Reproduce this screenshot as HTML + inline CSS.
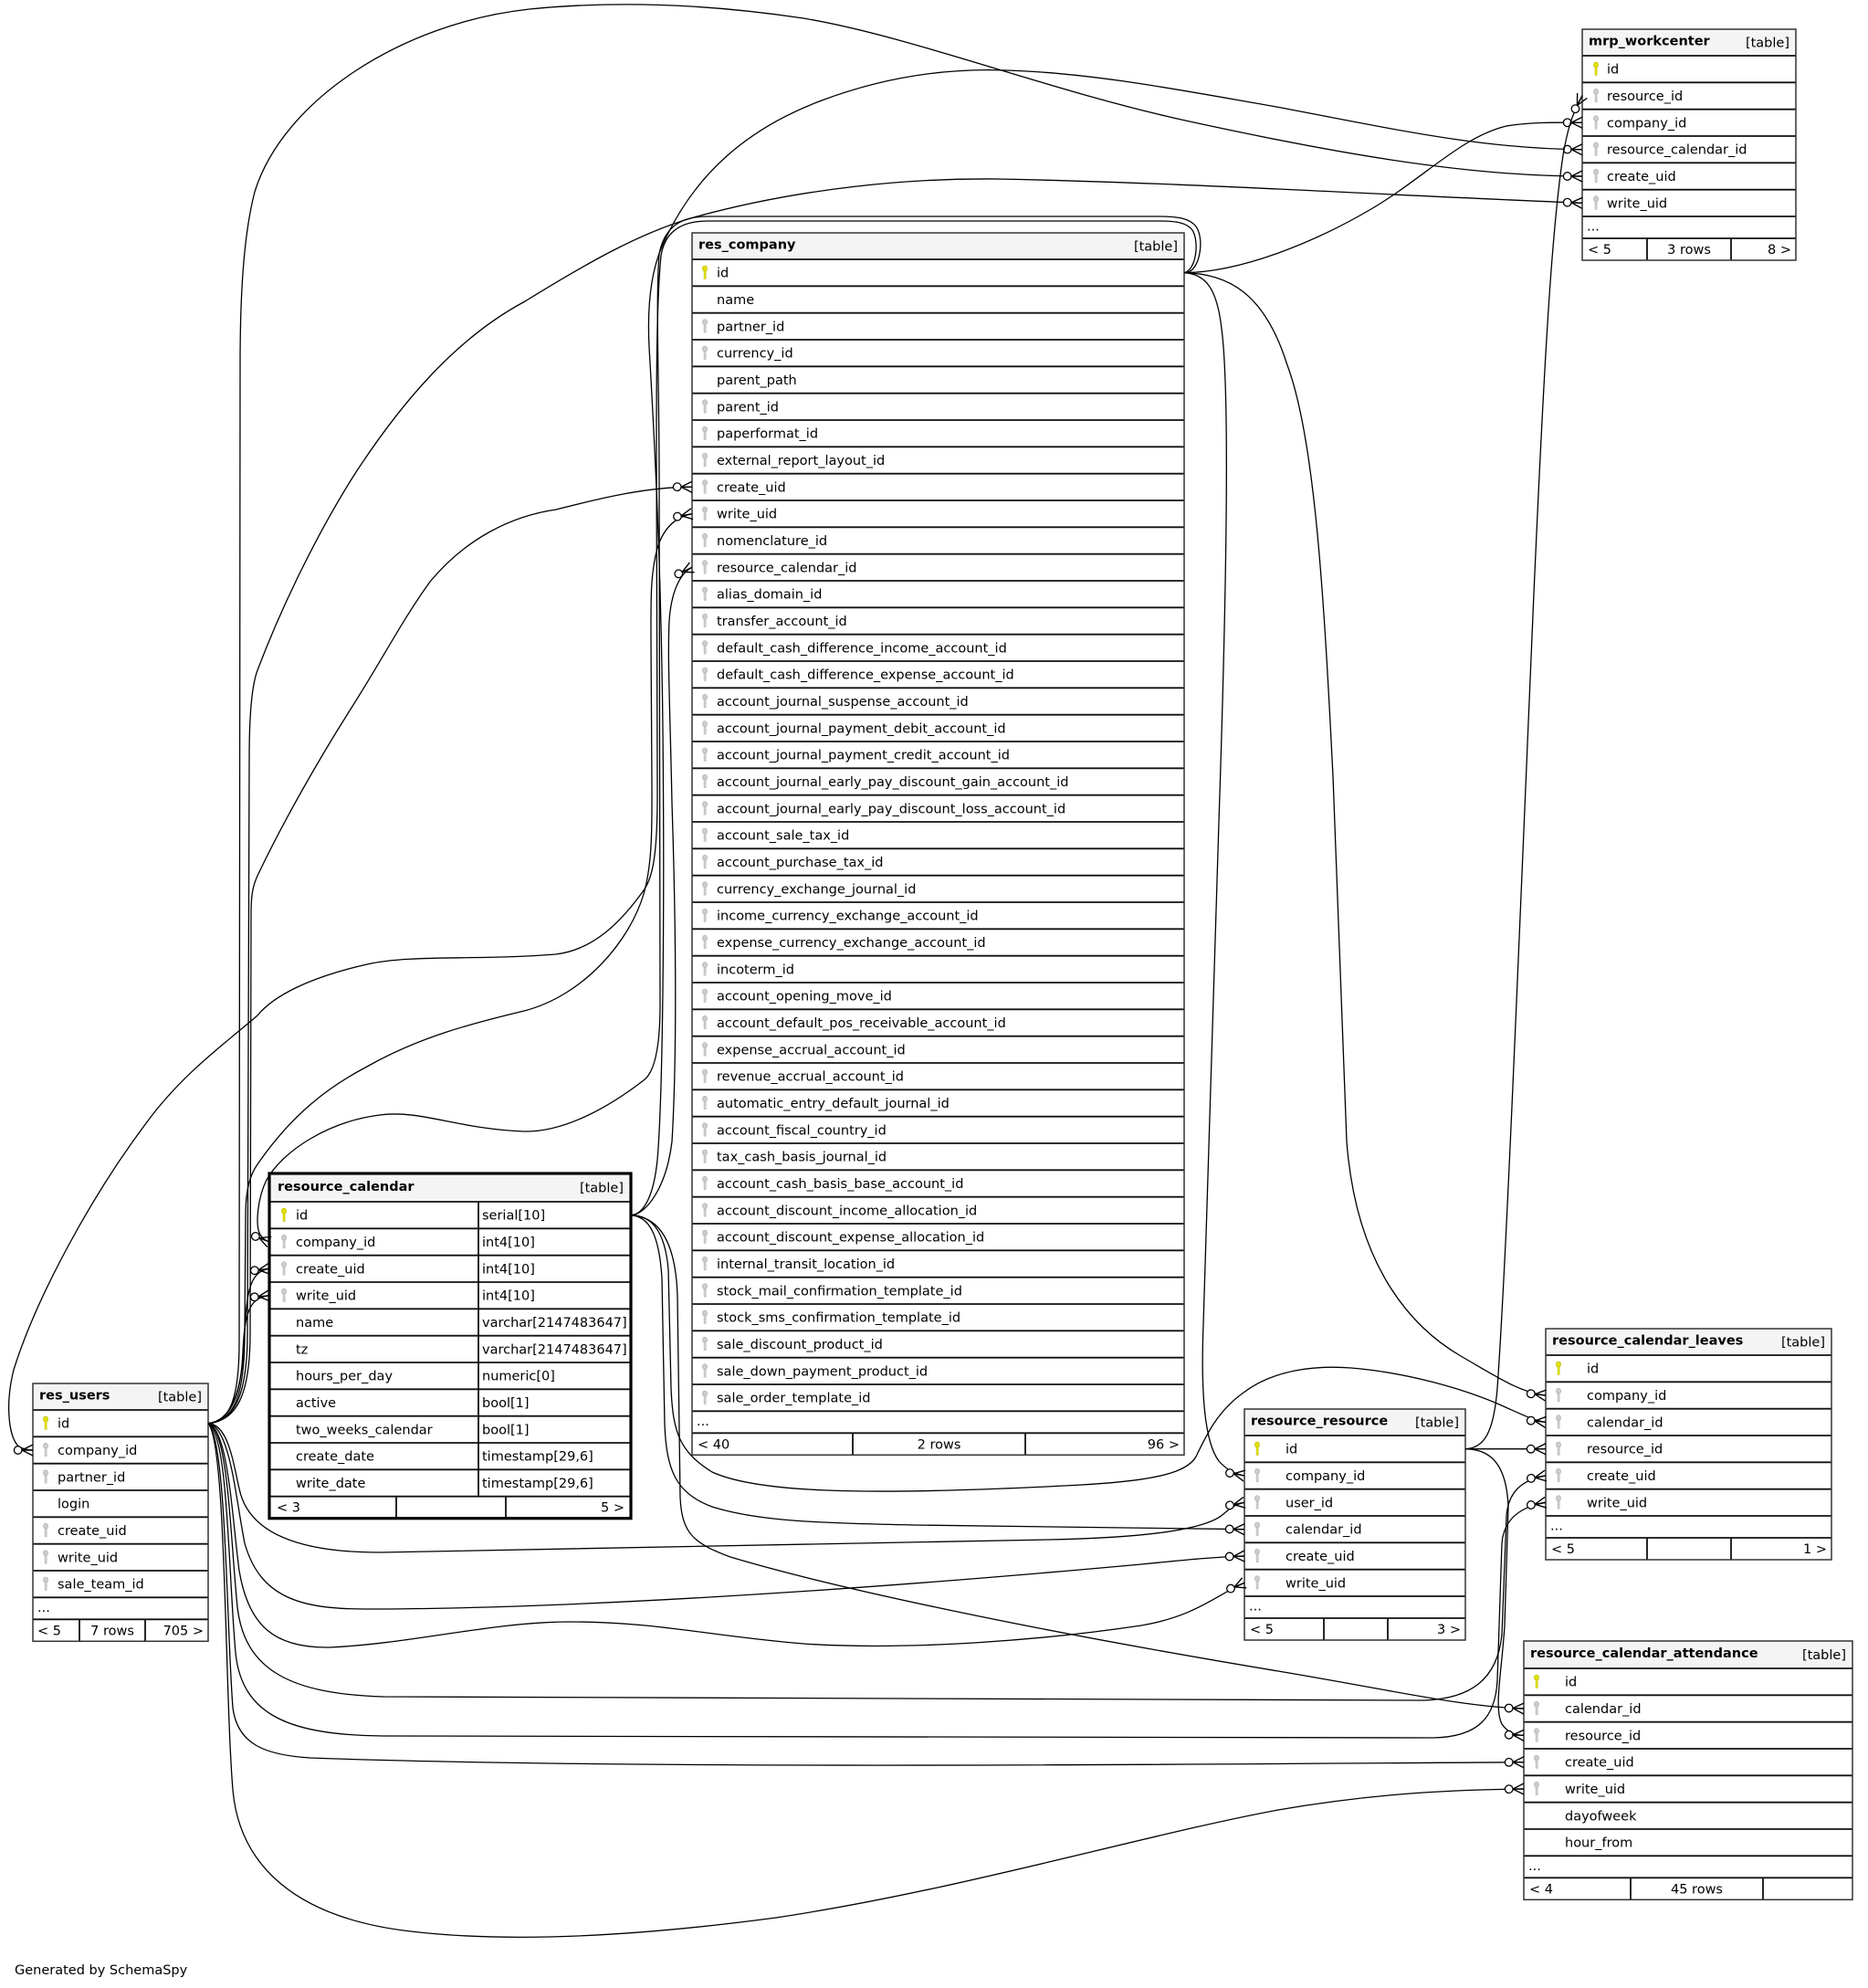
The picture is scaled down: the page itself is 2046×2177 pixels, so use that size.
<!DOCTYPE html>
<html><head><meta charset="utf-8"><style>
html,body{margin:0;padding:0;background:#fff;}
svg{display:block;}
text{font-family:"DejaVu Sans","Liberation Sans",sans-serif;font-size:14.5px;fill:#000;}
.b{font-weight:bold;}
.hd{fill:#f4f4f4;}
.sep{stroke:#111;stroke-width:1.8;fill:none;}
.box{fill:none;stroke:#333;stroke-width:1.5;}
.e{fill:none;stroke:#000;stroke-width:1.3;}
.c{marker-end:url(#cf);}
</style></head><body>
<svg xmlns="http://www.w3.org/2000/svg" width="2046" height="2177" viewBox="0 0 2046 2177">
<defs>
<g id="kY"><ellipse cx="0" cy="3" rx="2.6" ry="3" fill="#e2e200" stroke="#b5b500" stroke-width="0.6"/><rect x="-1" y="5.5" width="2.2" height="9" fill="#e2e200" stroke="#b5b500" stroke-width="0.4"/></g>
<g id="kG"><ellipse cx="0" cy="3" rx="2.6" ry="3" fill="#cdcdcd" stroke="#aaa" stroke-width="0.6"/><rect x="-1" y="5.5" width="2.2" height="9" fill="#cdcdcd" stroke="#aaa" stroke-width="0.4"/></g>
<marker id="cf" markerUnits="userSpaceOnUse" markerWidth="30" markerHeight="20" viewBox="-24 -10 30 20" refX="0" refY="0" orient="auto" overflow="visible">
<path d="M-12,0 L0,-6 M-12,0 L0,6 M-12,0 L0,0" stroke="#000" stroke-width="1.4" fill="none"/>
<circle cx="-16.3" cy="0" r="4.3" fill="#fff" stroke="#000" stroke-width="1.3"/>
</marker>
</defs>
<rect width="2046" height="2177" fill="#fff"/>

<!-- mrp_workcenter -->
<g transform="translate(1733,32)">
<rect class="hd" x="0" y="0" width="234" height="29"/>
<text class="b" x="7" y="17.5">mrp_workcenter</text>
<text x="227" y="19.5" text-anchor="end">[table]</text>
<use href="#kY" x="15" y="36"/><text x="27" y="48.7">id</text>
<use href="#kG" x="15" y="65.3"/><text x="27" y="78">resource_id</text>
<use href="#kG" x="15" y="94.7"/><text x="27" y="107.4">company_id</text>
<use href="#kG" x="15" y="124"/><text x="27" y="136.7">resource_calendar_id</text>
<use href="#kG" x="15" y="153.3"/><text x="27" y="166">create_uid</text>
<use href="#kG" x="15" y="182.7"/><text x="27" y="195.4">write_uid</text>
<text x="5" y="220.5">...</text>
<text x="6" y="246">&lt; 5</text>
<text x="117" y="246" text-anchor="middle">3 rows</text>
<text x="229" y="246" text-anchor="end">8 &gt;</text>
<path class="sep" d="M0,29H234M0,58.3H234M0,87.7H234M0,117H234M0,146.3H234M0,175.7H234M0,205H234M0,229H234M71,229V253M163,229V253"/>
<rect class="box" x="0" y="0" width="234" height="253"/>
</g>

<!-- res_company -->
<g transform="translate(758,255)">
<rect class="hd" x="0" y="0" width="539" height="29"/>
<text class="b" x="7" y="17.5">res_company</text>
<text x="532" y="19.5" text-anchor="end">[table]</text>
<use href="#kY" x="14" y="36"/><text x="27" y="48.7">id</text>
<text x="27" y="78">name</text>
<use href="#kG" x="14" y="94.7"/><text x="27" y="107.4">partner_id</text>
<use href="#kG" x="14" y="124"/><text x="27" y="136.7">currency_id</text>
<text x="27" y="166">parent_path</text>
<use href="#kG" x="14" y="182.7"/><text x="27" y="195.4">parent_id</text>
<use href="#kG" x="14" y="212"/><text x="27" y="224.7">paperformat_id</text>
<use href="#kG" x="14" y="241.3"/><text x="27" y="254">external_report_layout_id</text>
<use href="#kG" x="14" y="270.7"/><text x="27" y="283.4">create_uid</text>
<use href="#kG" x="14" y="300"/><text x="27" y="312.7">write_uid</text>
<use href="#kG" x="14" y="329.3"/><text x="27" y="342">nomenclature_id</text>
<use href="#kG" x="14" y="358.7"/><text x="27" y="371.4">resource_calendar_id</text>
<use href="#kG" x="14" y="388"/><text x="27" y="400.7">alias_domain_id</text>
<use href="#kG" x="14" y="417.3"/><text x="27" y="430">transfer_account_id</text>
<use href="#kG" x="14" y="446.7"/><text x="27" y="459.4">default_cash_difference_income_account_id</text>
<use href="#kG" x="14" y="476"/><text x="27" y="488.7">default_cash_difference_expense_account_id</text>
<use href="#kG" x="14" y="505.3"/><text x="27" y="518">account_journal_suspense_account_id</text>
<use href="#kG" x="14" y="534.7"/><text x="27" y="547.4">account_journal_payment_debit_account_id</text>
<use href="#kG" x="14" y="564"/><text x="27" y="576.7">account_journal_payment_credit_account_id</text>
<use href="#kG" x="14" y="593.3"/><text x="27" y="606">account_journal_early_pay_discount_gain_account_id</text>
<use href="#kG" x="14" y="622.7"/><text x="27" y="635.4">account_journal_early_pay_discount_loss_account_id</text>
<use href="#kG" x="14" y="652"/><text x="27" y="664.7">account_sale_tax_id</text>
<use href="#kG" x="14" y="681.3"/><text x="27" y="694">account_purchase_tax_id</text>
<use href="#kG" x="14" y="710.7"/><text x="27" y="723.4">currency_exchange_journal_id</text>
<use href="#kG" x="14" y="740"/><text x="27" y="752.7">income_currency_exchange_account_id</text>
<use href="#kG" x="14" y="769.3"/><text x="27" y="782">expense_currency_exchange_account_id</text>
<use href="#kG" x="14" y="798.7"/><text x="27" y="811.4">incoterm_id</text>
<use href="#kG" x="14" y="828"/><text x="27" y="840.7">account_opening_move_id</text>
<use href="#kG" x="14" y="857.3"/><text x="27" y="870">account_default_pos_receivable_account_id</text>
<use href="#kG" x="14" y="886.7"/><text x="27" y="899.4">expense_accrual_account_id</text>
<use href="#kG" x="14" y="916"/><text x="27" y="928.7">revenue_accrual_account_id</text>
<use href="#kG" x="14" y="945.3"/><text x="27" y="958">automatic_entry_default_journal_id</text>
<use href="#kG" x="14" y="974.7"/><text x="27" y="987.4">account_fiscal_country_id</text>
<use href="#kG" x="14" y="1004"/><text x="27" y="1016.7">tax_cash_basis_journal_id</text>
<use href="#kG" x="14" y="1033.3"/><text x="27" y="1046">account_cash_basis_base_account_id</text>
<use href="#kG" x="14" y="1062.7"/><text x="27" y="1075.4">account_discount_income_allocation_id</text>
<use href="#kG" x="14" y="1092"/><text x="27" y="1104.7">account_discount_expense_allocation_id</text>
<use href="#kG" x="14" y="1121.3"/><text x="27" y="1134">internal_transit_location_id</text>
<use href="#kG" x="14" y="1150.7"/><text x="27" y="1163.4">stock_mail_confirmation_template_id</text>
<use href="#kG" x="14" y="1180"/><text x="27" y="1192.7">stock_sms_confirmation_template_id</text>
<use href="#kG" x="14" y="1209.3"/><text x="27" y="1222">sale_discount_product_id</text>
<use href="#kG" x="14" y="1238.7"/><text x="27" y="1251.4">sale_down_payment_product_id</text>
<use href="#kG" x="14" y="1268"/><text x="27" y="1280.7">sale_order_template_id</text>
<text x="5" y="1305.8">...</text>
<text x="6" y="1331.3">&lt; 40</text>
<text x="270.5" y="1331.3" text-anchor="middle">2 rows</text>
<text x="534" y="1331.3" text-anchor="end">96 &gt;</text>
<path class="sep" d="M0,29H539M0,58.3H539M0,87.7H539M0,117H539M0,146.3H539M0,175.7H539M0,205H539M0,234.3H539M0,263.7H539M0,293H539M0,322.3H539M0,351.7H539M0,381H539M0,410.3H539M0,439.7H539M0,469H539M0,498.3H539M0,527.7H539M0,557H539M0,586.3H539M0,615.7H539M0,645H539M0,674.3H539M0,703.7H539M0,733H539M0,762.3H539M0,791.7H539M0,821H539M0,850.3H539M0,879.7H539M0,909H539M0,938.3H539M0,967.7H539M0,997H539M0,1026.3H539M0,1055.7H539M0,1085H539M0,1114.3H539M0,1143.7H539M0,1173H539M0,1202.3H539M0,1231.7H539M0,1261H539M0,1290.3H539M0,1314.3H539M176,1314.3V1338.3M365,1314.3V1338.3"/>
<rect class="box" x="0" y="0" width="539" height="1338.3"/>
</g>

<!-- resource_calendar -->
<g transform="translate(295,1285)">
<rect class="hd" x="0" y="0" width="396" height="31"/>
<text class="b" x="9" y="19">resource_calendar</text>
<text x="388" y="20.5" text-anchor="end">[table]</text>
<use href="#kY" x="16" y="38"/><text x="29" y="50.7">id</text><text x="233" y="50.7">serial[10]</text>
<use href="#kG" x="16" y="67.3"/><text x="29" y="80">company_id</text><text x="233" y="80">int4[10]</text>
<use href="#kG" x="16" y="96.7"/><text x="29" y="109.4">create_uid</text><text x="233" y="109.4">int4[10]</text>
<use href="#kG" x="16" y="126"/><text x="29" y="138.7">write_uid</text><text x="233" y="138.7">int4[10]</text>
<text x="29" y="168">name</text><text x="233" y="168">varchar[2147483647]</text>
<text x="29" y="197.4">tz</text><text x="233" y="197.4">varchar[2147483647]</text>
<text x="29" y="226.7">hours_per_day</text><text x="233" y="226.7">numeric[0]</text>
<text x="29" y="256">active</text><text x="233" y="256">bool[1]</text>
<text x="29" y="285.4">two_weeks_calendar</text><text x="233" y="285.4">bool[1]</text>
<text x="29" y="314.7">create_date</text><text x="233" y="314.7">timestamp[29,6]</text>
<text x="29" y="344">write_date</text><text x="233" y="344">timestamp[29,6]</text>
<text x="8" y="370.7">&lt; 3</text>
<text x="389" y="370.7" text-anchor="end">5 &gt;</text>
<path class="sep" d="M0,31H396M0,60.3H396M0,89.7H396M0,119H396M0,148.3H396M0,177.7H396M0,207H396M0,236.3H396M0,265.7H396M0,295H396M0,324.3H396M0,353.7H396M229,31V353.7M139,353.7V377.7M259,353.7V377.7"/>
<rect x="0" y="0" width="396" height="377.7" fill="none" stroke="#000" stroke-width="3.2"/>
</g>

<!-- res_users -->
<g transform="translate(36,1515)">
<rect class="hd" x="0" y="0" width="192" height="29"/>
<text class="b" x="7" y="17.5">res_users</text>
<text x="185" y="19.5" text-anchor="end">[table]</text>
<use href="#kY" x="14" y="36"/><text x="27" y="48.7">id</text>
<use href="#kG" x="14" y="65.3"/><text x="27" y="78">company_id</text>
<use href="#kG" x="14" y="94.7"/><text x="27" y="107.4">partner_id</text>
<text x="27" y="136.7">login</text>
<use href="#kG" x="14" y="153.3"/><text x="27" y="166">create_uid</text>
<use href="#kG" x="14" y="182.7"/><text x="27" y="195.4">write_uid</text>
<use href="#kG" x="14" y="212"/><text x="27" y="224.7">sale_team_id</text>
<text x="5" y="249.8">...</text>
<text x="5" y="275.3">&lt; 5</text>
<text x="87" y="275.3" text-anchor="middle">7 rows</text>
<text x="187" y="275.3" text-anchor="end">705 &gt;</text>
<path class="sep" d="M0,29H192M0,58.3H192M0,87.7H192M0,117H192M0,146.3H192M0,175.7H192M0,205H192M0,234.3H192M0,258.3H192M51,258.3V282.3M123,258.3V282.3"/>
<rect class="box" x="0" y="0" width="192" height="282.3"/>
</g>

<!-- resource_resource -->
<g transform="translate(1363,1543)">
<rect class="hd" x="0" y="0" width="242" height="29"/>
<text class="b" x="7" y="17.5">resource_resource</text>
<text x="235" y="19.5" text-anchor="end">[table]</text>
<use href="#kY" x="14" y="36"/><text x="45" y="48.7">id</text>
<use href="#kG" x="14" y="65.3"/><text x="45" y="78">company_id</text>
<use href="#kG" x="14" y="94.7"/><text x="45" y="107.4">user_id</text>
<use href="#kG" x="14" y="124"/><text x="45" y="136.7">calendar_id</text>
<use href="#kG" x="14" y="153.3"/><text x="45" y="166">create_uid</text>
<use href="#kG" x="14" y="182.7"/><text x="45" y="195.4">write_uid</text>
<text x="5" y="220.5">...</text>
<text x="6" y="246">&lt; 5</text>
<text x="237" y="246" text-anchor="end">3 &gt;</text>
<path class="sep" d="M0,29H242M0,58.3H242M0,87.7H242M0,117H242M0,146.3H242M0,175.7H242M0,205H242M0,229H242M87,229V253M157,229V253"/>
<rect class="box" x="0" y="0" width="242" height="253"/>
</g>

<!-- resource_calendar_leaves -->
<g transform="translate(1693,1455)">
<rect class="hd" x="0" y="0" width="313" height="29"/>
<text class="b" x="7" y="17.5">resource_calendar_leaves</text>
<text x="306" y="19.5" text-anchor="end">[table]</text>
<use href="#kY" x="14" y="36"/><text x="45" y="48.7">id</text>
<use href="#kG" x="14" y="65.3"/><text x="45" y="78">company_id</text>
<use href="#kG" x="14" y="94.7"/><text x="45" y="107.4">calendar_id</text>
<use href="#kG" x="14" y="124"/><text x="45" y="136.7">resource_id</text>
<use href="#kG" x="14" y="153.3"/><text x="45" y="166">create_uid</text>
<use href="#kG" x="14" y="182.7"/><text x="45" y="195.4">write_uid</text>
<text x="5" y="220.5">...</text>
<text x="6" y="246">&lt; 5</text>
<text x="308" y="246" text-anchor="end">1 &gt;</text>
<path class="sep" d="M0,29H313M0,58.3H313M0,87.7H313M0,117H313M0,146.3H313M0,175.7H313M0,205H313M0,229H313M111,229V253M203,229V253"/>
<rect class="box" x="0" y="0" width="313" height="253"/>
</g>

<!-- resource_calendar_attendance -->
<g transform="translate(1669,1797)">
<rect class="hd" x="0" y="0" width="360" height="30"/>
<text class="b" x="7" y="18">resource_calendar_attendance</text>
<text x="353" y="20" text-anchor="end">[table]</text>
<use href="#kY" x="14" y="37"/><text x="45" y="49.7">id</text>
<use href="#kG" x="14" y="66.3"/><text x="45" y="79">calendar_id</text>
<use href="#kG" x="14" y="95.7"/><text x="45" y="108.4">resource_id</text>
<use href="#kG" x="14" y="125"/><text x="45" y="137.7">create_uid</text>
<use href="#kG" x="14" y="154.3"/><text x="45" y="167">write_uid</text>
<text x="45" y="196.4">dayofweek</text>
<text x="45" y="225.7">hour_from</text>
<text x="5" y="250.8">...</text>
<text x="6" y="276.3">&lt; 4</text>
<text x="189.5" y="276.3" text-anchor="middle">45 rows</text>
<path class="sep" d="M0,30H360M0,59.3H360M0,88.7H360M0,118H360M0,147.3H360M0,176.7H360M0,206H360M0,235.3H360M0,259.3H360M117,259.3V283.3M262,259.3V283.3"/>
<rect class="box" x="0" y="0" width="360" height="283.3"/>
</g>

<!-- edges -->
<g>
<path class="e c" d="M228,1558.7 C252,1558 262,1530 262,1470 L263,400 C263,330 266,260 279,210 C310,110 440,25 580,10 C680,0 780,5 880,20 C1000,40 1150,100 1303,133 C1450,165 1600,193 1733,193"/>
<path class="e c" d="M228,1558.7 C256,1556 271,1530 271,1460 L273,830 C273,780 276,750 282,734 C310,660 350,580 388,520 C440,440 500,370 575,330 C640,290 700,255 760,238 C880,205 1000,195 1092,196 C1300,200 1500,213 1733,222.3"/>
<path class="e c" d="M691,1330.7 C705,1330 716,1310 720,1270 C726,1200 728,1000 726,800 C724,600 715,450 711,380 C709,340 712,300 725,270 C760,190 820,140 900,110 C980,80 1050,75 1102,77 C1200,80 1300,100 1398,117 C1520,140 1620,163 1733,163.7"/>
<path class="e c" d="M228,1558.7 C258,1556 274,1530 274,1460 L275,1000 C275,980 277,970 282,959 C310,900 350,830 385,775 C420,720 440,680 471,637 C510,590 560,565 609,558 C660,545 710,533 758,533.3"/>
<path class="e c" d="M228,1558.7 C256,1556 268,1530 268,1460 L269,1330 C269,1300 275,1285 282,1275 C320,1220 360,1190 402,1168 C460,1135 520,1120 574,1107 C640,1090 690,1030 705,979 C715,945 714,900 714,860 L713,700 C713,660 712,630 720,600 C727,578 740,566 758,562.7"/>
<path class="e c" d="M691,1330.7 C708,1330 730,1300 736,1250 C742,1150 740,1000 736,880 C734,780 731,720 733,680 C735,650 744,628 758,621.3"/>
<path class="e c" d="M1297,298.7 C1310,296 1314,265 1306,252 C1300,244 1289,242 1269,242 L775,242 C745,242 728,255 724,280 C719,330 719,420 719,500 L720,870 C720,930 716,960 705,975 C680,1010 650,1040 609,1045 C520,1052 450,1045 402,1056 C340,1070 300,1090 282,1112 C250,1140 200,1175 160,1230 C100,1310 40,1420 15,1500 C5,1540 10,1578 22,1585 C27,1587 31,1588 36,1588"/>
<path class="e c" d="M1297,298.7 C1314,300 1320,262 1310,248 C1303,239 1290,237 1269,237 L775,237 C742,237 727,252 722,278 C718,330 722,420 722,520 L723,1100 C723,1150 716,1175 705,1183 C670,1210 620,1240 574,1239 C500,1236 460,1215 416,1221 C360,1228 310,1260 292,1292 C282,1312 280,1340 284,1350 C287,1356 290,1358 295,1360"/>
<path class="e c" d="M228,1558.7 C255,1556 266,1520 268,1460 C270,1420 272,1392 295,1389.3"/>
<path class="e c" d="M228,1558.7 C252,1556 264,1530 266,1480 C268,1440 272,1421 295,1418.7"/>
<path class="e c" d="M228,1558.7 C250,1560 255,1600 262,1630 C272,1680 330,1700 416,1700 L1150,1686 C1250,1684 1320,1676 1340,1658 C1348,1651 1354,1647 1363,1645.3"/>
<path class="e c" d="M228,1558.7 C252,1562 258,1640 268,1690 C285,1750 330,1762 400,1762 C600,1762 900,1745 1250,1713 C1300,1708 1330,1705 1363,1704"/>
<path class="e c" d="M228,1558.7 C250,1565 254,1660 262,1720 C272,1780 300,1805 361,1804 C450,1800 540,1776 624,1776 C720,1776 780,1792 880,1800 C1000,1808 1150,1795 1250,1780 C1310,1770 1335,1745 1363,1733.3"/>
<path class="e c" d="M228,1558.7 C250,1565 252,1680 260,1760 C268,1830 320,1855 420,1858 L1560,1862 C1610,1860 1640,1840 1645,1790 L1650,1660 C1652,1635 1665,1621 1693,1616"/>
<path class="e c" d="M228,1558.7 C250,1570 250,1720 258,1810 C265,1880 320,1900 420,1901 L1570,1903 C1620,1902 1638,1880 1640,1840 L1645,1690 C1647,1664 1665,1650 1693,1645.3"/>
<path class="e c" d="M228,1558.7 C248,1575 248,1780 255,1870 C260,1910 290,1922 340,1925 C700,1938 1300,1932 1669,1929.7"/>
<path class="e c" d="M228,1558.7 C248,1580 246,1850 255,1960 C262,2040 320,2100 450,2115 C560,2128 700,2120 850,2100 C1050,2070 1250,2010 1400,1982 C1500,1965 1580,1960 1669,1959"/>
<path class="e c" d="M691,1330.7 C710,1332 722,1350 725,1400 L728,1560 C730,1610 740,1635 780,1650 C830,1666 900,1668 1000,1670 L1363,1674.7"/>
<path class="e c" d="M691,1330.7 C712,1331 728,1345 732,1390 L735,1520 C737,1570 745,1590 780,1612 C830,1635 950,1636 1100,1630 C1220,1625 1295,1622 1310,1595 C1322,1570 1334,1545 1362,1525 C1395,1500 1440,1495 1480,1498 C1540,1503 1600,1520 1640,1537 C1665,1548 1680,1556 1693,1557.3"/>
<path class="e c" d="M691,1330.7 C716,1332 740,1350 742,1420 L745,1640 C747,1680 760,1690 800,1705 C900,1735 1100,1780 1400,1830 C1520,1850 1600,1869 1669,1871"/>
<path class="e c" d="M1297,298.7 C1360,298 1440,265 1500,230 C1560,195 1600,150 1650,138 C1680,133 1710,134.3 1733,134.3"/>
<path class="e c" d="M1297,298.7 C1345,300 1385,320 1410,400 C1440,480 1450,650 1460,850 L1475,1250 C1485,1380 1540,1450 1600,1485 C1640,1508 1665,1525 1693,1528"/>
<path class="e c" d="M1297,298.7 C1320,300 1333,315 1338,360 C1346,420 1345,600 1335,900 L1318,1450 C1315,1530 1320,1580 1335,1600 C1343,1609 1352,1614 1363,1616"/>
<path class="e c" d="M1605,1586.7 C1625,1586 1636,1570 1640,1520 C1650,1380 1665,1000 1680,650 C1692,380 1700,250 1712,170 C1718,135 1724,122 1733,104.7"/>
<path class="e c" d="M1605,1586.7 L1693,1586.7"/>
<path class="e c" d="M1605,1586.7 C1630,1587 1650,1600 1652,1650 L1648,1780 C1645,1830 1636,1870 1645,1888 C1652,1898 1660,1900 1669,1900.3"/>
</g>

<text x="16" y="2162">Generated by SchemaSpy</text>
</svg>
</body></html>
